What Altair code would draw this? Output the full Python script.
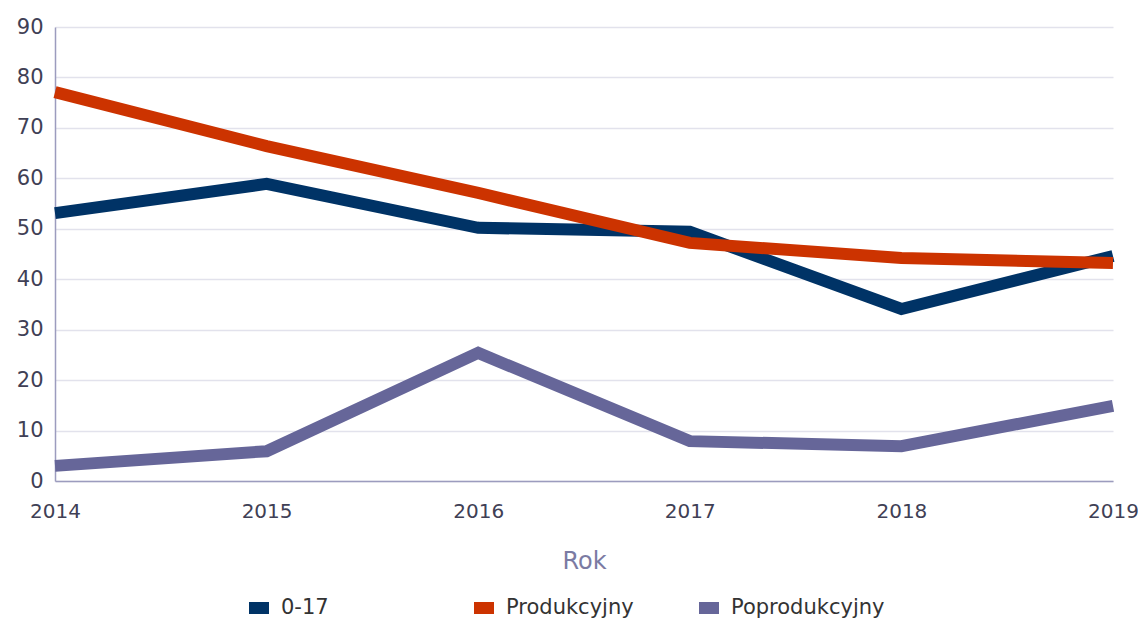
import altair as alt
import pandas as pd

years = [2014, 2015, 2016, 2017, 2018, 2019]
series_names = ["0-17", "Produkcyjny", "Poprodukcyjny"]
v_0_17 = [53.1, 58.9, 50.2, 49.4, 34.1, 44.6]
v_prod = [77.1, 66.4, 57.1, 47.2, 44.2, 43.2]
v_poprod = [3.0, 5.9, 25.4, 7.9, 6.9, 14.9]
colors = ["#003366", "#CC3300", "#666699"]

rows = []
for name, vals in zip(series_names, [v_0_17, v_prod, v_poprod]):
    for y, v in zip(years, vals):
        rows.append({"Rok": str(y), "Seria": name, "Wartość": v})
df = pd.DataFrame(rows)

FONT = "DejaVu Sans"

chart = alt.Chart(df).mark_line(strokeWidth=12, strokeJoin="miter", strokeCap="butt").encode(
    x=alt.X("Rok:O", scale=alt.Scale(padding=0),
            axis=alt.Axis(title="Rok", labelAngle=0, labelFont=FONT, labelFontSize=20,
                          labelColor="#404055", labelPadding=20, ticks=False,
                          domainColor="#9C9CBE", domainWidth=1.5,
                          titleFont=FONT, titleFontSize=24, titleFontWeight="normal",
                          titleColor="#7B7BA3", titlePadding=28, grid=False)),
    y=alt.Y("Wartość:Q", scale=alt.Scale(domain=[0, 90], nice=False),
            axis=alt.Axis(title=None, values=list(range(0, 91, 10)), labelFont=FONT,
                          labelFontSize=21, labelColor="#404055", labelPadding=12, ticks=False,
                          domainColor="#9C9CBE", domainWidth=1.5,
                          gridColor="#E2E2EC", gridWidth=1.5)),
    color=alt.Color("Seria:N", scale=alt.Scale(domain=series_names, range=colors),
                    legend=alt.Legend(title=None, orient="none", direction="horizontal",
                                      legendX=188, legendY=565, symbolType="stroke",
                                      symbolSize=400, symbolStrokeWidth=12, symbolOpacity=1,
                                      labelFont=FONT, labelFontSize=21, labelColor="#333333",
                                      columnPadding=15, gridAlign="all", labelOffset=6,
                                      labelLimit=300)),
    order=alt.Order("Seria:N", sort="ascending"),
).properties(
    width=1058, height=454,
    padding={"left": 47, "top": 19, "right": 25, "bottom": 140},
    autosize=alt.AutoSizeParams(type="none"),
).configure(background="white").configure_view(stroke=None, strokeWidth=0)

chart.save("out.html", embed_options={"renderer": "svg", "actions": False})
